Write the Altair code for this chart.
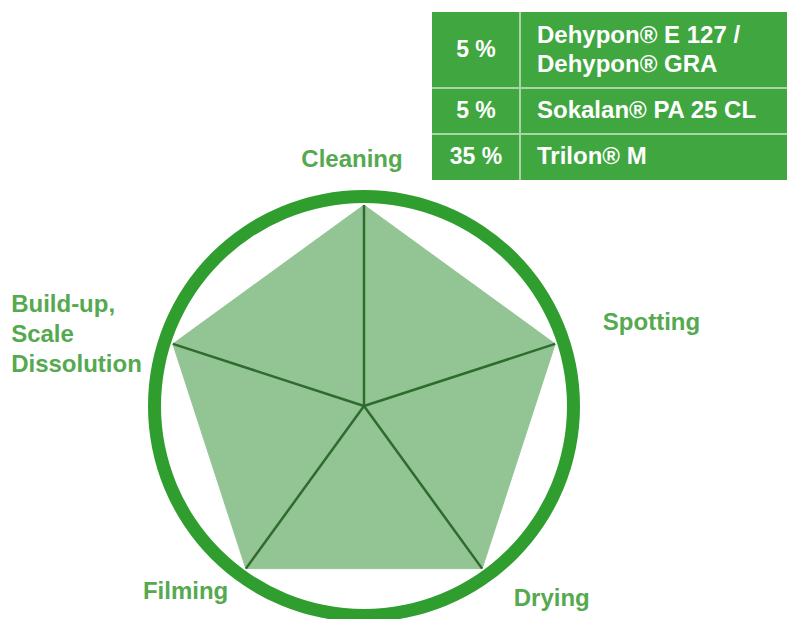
import math
import altair as alt
import pandas as pd

# ---------------- data ----------------
axis_labels = [["Cleaning"], ["Spotting"], ["Drying"], ["Filming"],
               ["Build-up,", "Scale", "Dissolution"]]
scores = [5, 5, 5, 5, 5]
score_max = 5

table_pct = ["5 %", "5 %", "35 %"]
table_names = [["Dehypon® E 127 /", "Dehypon® GRA"],
               ["Sokalan® PA 25 CL"],
               ["Trilon® M"]]

# ---------------- layout / style ----------------
W, H = 787, 619
CX, CY = 364, 406          # radar centre
R = 201                    # radius of the score maximum
RING_IN, RING_OUT = 203, 216
LABEL_R = 248
LABEL_LH = 30

LABEL_COLOR = "#55a94f"
RING_COLOR = "#2f9e2f"
FILL_COLOR = "#93c493"
SPOKE_COLOR = "#2e6b2e"
TABLE_BG = "#40a640"
TABLE_LINE = "#a9d6a2"
FONT = "Liberation Sans"

# table geometry
T_LEFT, T_RIGHT, T_TOP, T_DIV = 432, 787, 12, 520
LINE_H, ROW_PAD = 30, 16
TXT_LH = 29

n = len(scores)
angles = [math.radians(90 - i * 360 / n) for i in range(n)]

rad = pd.DataFrame({
    "idx": list(range(n)) + [n],
    "x": [CX + R * scores[i % n] / score_max * math.cos(angles[i % n]) for i in range(n + 1)],
    "y": [CY - R * scores[i % n] / score_max * math.sin(angles[i % n]) for i in range(n + 1)],
})
spokes = pd.DataFrame({
    "x": [CX] * n, "y": [CY] * n,
    "x2": [CX + R * scores[i] / score_max * math.cos(angles[i]) for i in range(n)],
    "y2": [CY - R * scores[i] / score_max * math.sin(angles[i]) for i in range(n)],
})
centre = pd.DataFrame({"x": [CX], "y": [CY]})

xs = alt.Scale(domain=[0, W], nice=False, zero=False)
ys = alt.Scale(domain=[H, 0], nice=False, zero=False)
X = lambda f="x": alt.X(f"{f}:Q", scale=xs, axis=None)
Y = lambda f="y": alt.Y(f"{f}:Q", scale=ys, axis=None)

ring = alt.Chart(centre).mark_arc(
    radius=RING_OUT, radius2=RING_IN, theta=0, theta2=2 * math.pi, color=RING_COLOR
).encode(x=X(), y=Y())

poly = alt.Chart(rad).mark_line(
    interpolate="linear-closed", fill=FILL_COLOR, stroke=FILL_COLOR, strokeWidth=1
).encode(x=X(), y=Y(), order=alt.Order("idx:Q"))

spoke = alt.Chart(spokes).mark_rule(color=SPOKE_COLOR, strokeWidth=2.5).encode(
    x=X(), y=Y(), x2="x2:Q", y2="y2:Q")

# axis labels: anchor on the label circle, then nudged (align, dx, dy)
label_style = [
    ("center", -12, 2),
    ("left", 3, -6),
    ("left", 4, -8),
    ("right", 10, -15),
    ("left", -117, 6),
]
label_layers = []
for i in range(n):
    al, dx, dy = label_style[i]
    k = len(axis_labels[i])
    d = pd.DataFrame({
        "x": [CX + LABEL_R * math.cos(angles[i])],
        "y": [CY - LABEL_R * math.sin(angles[i])],
        "t": [axis_labels[i]],
    })
    label_layers.append(
        alt.Chart(d).mark_text(
            align=al, baseline="middle", dx=dx, dy=dy - (k - 1) * LABEL_LH / 2,
            font=FONT, fontSize=24, fontWeight="bold", color=LABEL_COLOR,
            lineHeight=LABEL_LH
        ).encode(x=X(), y=Y(), text="t")
    )

# table
tops, bots = [], []
cur = T_TOP
for names in table_names:
    h = LINE_H * len(names) + ROW_PAD
    tops.append(cur)
    bots.append(cur + h)
    cur += h
mids = [(a + b) / 2 for a, b in zip(tops, bots)]
tab = pd.DataFrame({
    "x": [T_LEFT] * len(table_pct), "x2": [T_RIGHT] * len(table_pct),
    "y": tops, "y2": bots,
    "ym": mids,
    "yn": [m - (len(nm) - 1) * TXT_LH / 2 for m, nm in zip(mids, table_names)],
    "xp": [(T_LEFT + T_DIV) / 2] * len(table_pct),
    "xn": [T_DIV + 17] * len(table_pct),
    "pct": table_pct, "name": table_names,
})
tab_bg = alt.Chart(tab).mark_rect(color=TABLE_BG).encode(
    x=X(), x2="x2:Q", y=Y(), y2="y2:Q")
hlines = alt.Chart(tab.iloc[1:]).mark_rule(color=TABLE_LINE, strokeWidth=2).encode(
    x=X(), x2="x2:Q", y=Y())
vline = alt.Chart(pd.DataFrame({"x": [T_DIV], "y": [tops[0]], "y2": [bots[-1]]})).mark_rule(
    color=TABLE_LINE, strokeWidth=2).encode(x=X(), y=Y(), y2="y2:Q")
pct_text = alt.Chart(tab).mark_text(
    align="center", baseline="middle", font=FONT, fontSize=23, fontWeight="bold",
    color="white").encode(x=X("xp"), y=Y("ym"), text="pct")
name_text = alt.Chart(tab).mark_text(
    align="left", baseline="middle", font=FONT, fontSize=24, fontWeight="bold",
    color="white", lineHeight=TXT_LH).encode(x=X("xn"), y=Y("yn"), text="name")

chart = alt.layer(
    poly, spoke, ring, *label_layers, tab_bg, hlines, vline, pct_text, name_text
).properties(
    width=W, height=H, padding=0, autosize=alt.AutoSizeParams(type="none"),
    background="white"
).configure_view(stroke=None)

chart.save("out.html", embed_options={"renderer": "svg", "actions": False})
